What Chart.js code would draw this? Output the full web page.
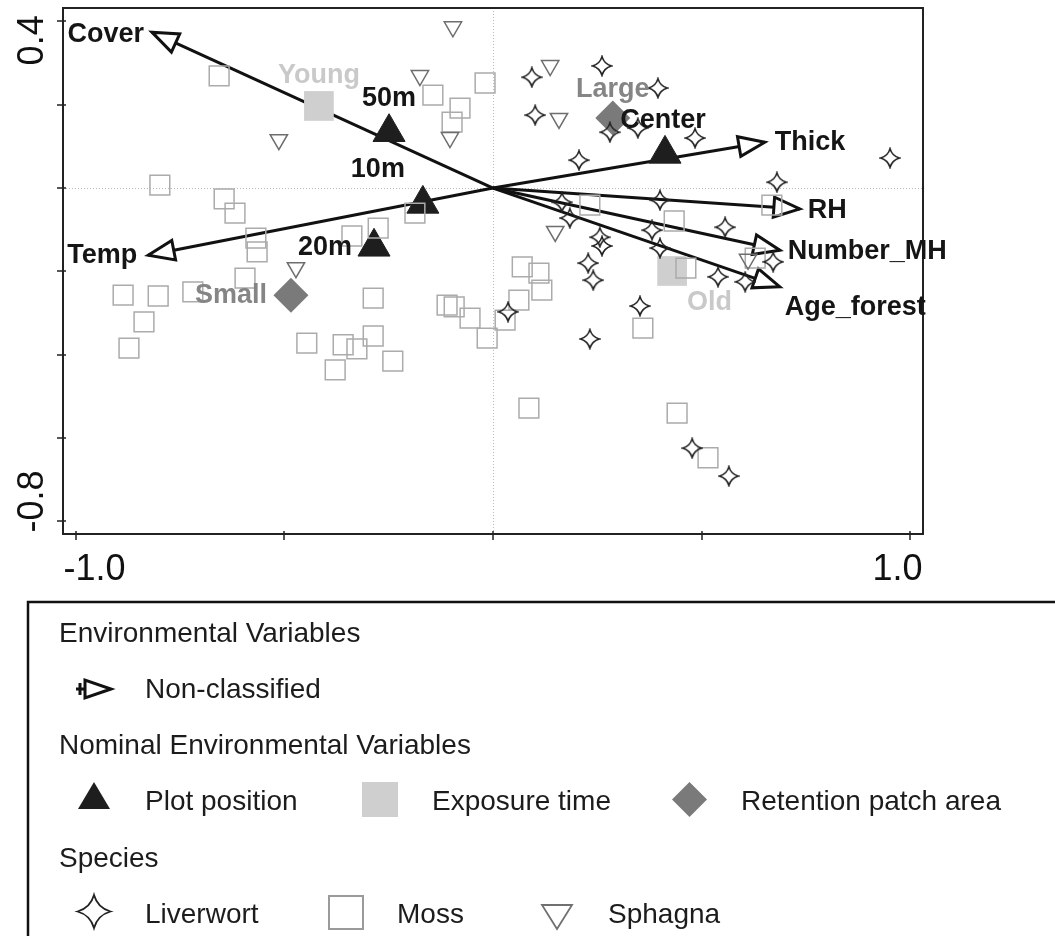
<!DOCTYPE html>
<html>
<head>
<meta charset="utf-8">
<script src="https://cdn.jsdelivr.net/npm/chart.js@4.4.1/dist/chart.umd.min.js"></script>
<style>
html, body { margin: 0; padding: 0; background: #fff; overflow: hidden; }
#wrap { width: 1055px; height: 936px; }
</style>
</head>
<body>
<div id="wrap"><canvas id="ordination" width="1055" height="936"></canvas></div>
<script>
// environmental variables (arrows)
const envNames = ['Cover', 'Temp', 'Thick', 'RH', 'Number_MH', 'Age_forest'];
const envX = [-0.817, -0.826, 0.651, 0.735, 0.687, 0.687];
const envY = [0.374, -0.161, 0.110, -0.050, -0.149, -0.237];

// nominal environmental variables
const plotPosNames = ['50m', '10m', '20m', 'Center'];
const plotPosX = [-0.249, -0.168, -0.285, 0.412];
const plotPosY = [0.134, -0.038, -0.141, 0.082];

const exposureNames = ['Young', 'Old'];
const exposureX = [-0.417, 0.429];
const exposureY = [0.197, -0.199];

const patchNames = ['Large', 'Small'];
const patchX = [0.287, -0.484];
const patchY = [0.168, -0.257];

// species scores
const liverwortX = [0.093, 0.261, 0.395, 0.101, 0.280, 0.347, 0.206, 0.165, 0.184, 0.400, 0.256, 0.261, 0.228, 0.240,
                    0.381, 0.400, 0.484, 0.951, 0.680, 0.556, 0.671, 0.539, 0.604, 0.352, 0.232, 0.036, 0.477, 0.565];
const liverwortY = [0.266, 0.293, 0.240, 0.175, 0.134, 0.144, 0.067, -0.034, -0.072, -0.029, -0.118, -0.139, -0.180, -0.221,
                    -0.101, -0.144, 0.120, 0.072, 0.014, -0.094, -0.177, -0.213, -0.225, -0.283, -0.362, -0.297, -0.624, -0.691];

const mossX = [-0.656, -0.798, -0.644, -0.618, -0.568, -0.565, -0.594, -0.886, -0.802, -0.719, -0.836, -0.872, -0.446, -0.359,
               -0.326, -0.378, -0.240, -0.287, -0.287, -0.338, -0.275, -0.187, -0.144, -0.079, -0.098, -0.019, -0.110, -0.093,
               -0.055, -0.014, 0.029, 0.062, 0.070, 0.110, 0.117, 0.232, 0.086, 0.359, 0.441, 0.515, 0.434, 0.462, 0.668, 0.628];
const mossY = [0.269, 0.007, -0.026, -0.060, -0.120, -0.153, -0.216, -0.257, -0.259, -0.249, -0.321, -0.384, -0.372, -0.376,
               -0.386, -0.436, -0.415, -0.264, -0.355, -0.115, -0.096, -0.060, 0.223, 0.192, 0.158, 0.252, -0.281, -0.285,
               -0.312, -0.360, -0.317, -0.269, -0.189, -0.204, -0.245, -0.041, -0.528, -0.336, -0.540, -0.647, -0.079, -0.192, -0.041, -0.168];

const sphagnaX = [-0.096, 0.137, -0.175, -0.103, 0.158, 0.149, -0.513, -0.472, 0.611];
const sphagnaY = [0.387, 0.294, 0.270, 0.121, 0.167, -0.104, 0.116, -0.191, -0.171];

// axes
const xTickValues = [-1.0, -0.5, 0, 0.5, 1.0];
const xTickLabels = ['-1.0', '', '', '', '1.0'];
const yTickValues = [0.4, 0.2, 0, -0.2, -0.4, -0.6, -0.8];
const yTickLabels = ['0.4', '', '', '', '', '', '-0.8'];

const FONT = '"Liberation Sans", Arial, sans-serif';

function toPoints(xs, ys) {
    return xs.map((x, i) => ({ x: x, y: ys[i] }));
}

// four pointed star used for liverworts
function traceStar(g, cx, cy, r) {
    const k = r * 0.22;
    g.beginPath();
    g.moveTo(cx, cy - r);
    g.quadraticCurveTo(cx + k, cy - k, cx + r, cy);
    g.quadraticCurveTo(cx + k, cy + k, cx, cy + r);
    g.quadraticCurveTo(cx - k, cy + k, cx - r, cy);
    g.quadraticCurveTo(cx - k, cy - k, cx, cy - r);
    g.closePath();
}

function makeStar(size, lw) {
    const c = document.createElement('canvas');
    c.width = size;
    c.height = size;
    const g = c.getContext('2d');
    traceStar(g, size / 2, size / 2, size / 2 - lw);
    g.lineWidth = lw;
    g.strokeStyle = '#222';
    g.lineJoin = 'miter';
    g.stroke();
    return c;
}

function drawHead(ctx, ox, oy, tx, ty, len, half) {
    const d = Math.hypot(tx - ox, ty - oy);
    const ux = (tx - ox) / d, uy = (ty - oy) / d;
    const bx = tx - ux * len, by = ty - uy * len;
    ctx.beginPath();
    ctx.moveTo(tx, ty);
    ctx.lineTo(bx - uy * half, by + ux * half);
    ctx.lineTo(bx + uy * half, by - ux * half);
    ctx.closePath();
    ctx.fillStyle = '#fff';
    ctx.fill();
    ctx.lineWidth = 3;
    ctx.strokeStyle = '#111';
    ctx.lineJoin = 'miter';
    ctx.stroke();
}

// where the text labels go relative to their marker (px)
const labelPlace = {
    'Cover': [-8, 10, 'right'], 'Temp': [-11, 8, 'right'], 'Thick': [10, 8, 'left'],
    'RH': [8, 9, 'left'], 'Number_MH': [8, 9, 'left'], 'Age_forest': [5, 28, 'left'],
    '50m': [0, -26, 'center'], '10m': [-45, -27, 'center'], '20m': [-22, 8, 'right'], 'Center': [-2, -26, 'center'],
    'Young': [0, -23, 'center'], 'Old': [15, 39, 'left'],
    'Large': [0, -21, 'center'], 'Small': [-24, 8, 'right']
};

const biplotDecor = {
    id: 'biplotDecor',
    beforeDatasetsDraw(chart) {
        const { ctx, chartArea: a, scales: { x, y } } = chart;
        const x0 = Math.round(x.getPixelForValue(0)) + 0.5;
        const y0 = Math.round(y.getPixelForValue(0)) + 0.5;
        ctx.save();
        ctx.strokeStyle = '#b8b8b8';
        ctx.lineWidth = 1;
        ctx.setLineDash([1, 2]);
        ctx.beginPath();
        ctx.moveTo(a.left, y0); ctx.lineTo(a.right, y0);
        ctx.moveTo(x0, a.top); ctx.lineTo(x0, a.bottom);
        ctx.stroke();
        ctx.restore();
    },
    afterDatasetDraw(chart, args) {
        const ds = chart.data.datasets[args.index];
        if (!ds.arrowHead) return;
        const pts = args.meta.data;
        const ctx = chart.ctx;
        ctx.save();
        drawHead(ctx, pts[0].x, pts[0].y, pts[1].x, pts[1].y, 26, 10);
        ctx.restore();
    },
    afterDatasetsDraw(chart) {
        const { ctx, chartArea: a, scales: { x, y } } = chart;
        ctx.save();

        // frame
        ctx.strokeStyle = '#222';
        ctx.lineWidth = 2;
        ctx.strokeRect(a.left, a.top, a.right - a.left, a.bottom - a.top);

        // ticks
        ctx.lineWidth = 1.5;
        ctx.beginPath();
        xTickValues.forEach(v => {
            const px = Math.round(x.getPixelForValue(v));
            ctx.moveTo(px, a.bottom - 3); ctx.lineTo(px, a.bottom + 6);
        });
        yTickValues.forEach(v => {
            const py = Math.round(y.getPixelForValue(v));
            ctx.moveTo(a.left - 6, py); ctx.lineTo(a.left + 3, py);
        });
        ctx.stroke();

        // tick labels
        ctx.fillStyle = '#111';
        ctx.font = '36px ' + FONT;
        ctx.textBaseline = 'alphabetic';
        xTickLabels.forEach((t, i) => {
            if (!t) return;
            const px = x.getPixelForValue(xTickValues[i]);
            const first = i === 0;
            ctx.textAlign = first ? 'left' : 'right';
            ctx.fillText(t, first ? px - 12 : px + 12, 580);
        });
        yTickLabels.forEach((t, i) => {
            if (!t) return;
            const py = y.getPixelForValue(yTickValues[i]);
            const first = i === 0;
            ctx.save();
            ctx.translate(43, first ? py - 6 : py + 11);
            ctx.rotate(-Math.PI / 2);
            ctx.textAlign = first ? 'right' : 'left';
            ctx.fillText(t, 0, 0);
            ctx.restore();
        });

        // labels of arrows and centroids
        ctx.font = 'bold 27px ' + FONT;
        const put = (names, xs, ys, color) => {
            names.forEach((n, i) => {
                const p = labelPlace[n];
                ctx.fillStyle = color;
                ctx.textAlign = p[2];
                ctx.fillText(n, x.getPixelForValue(xs[i]) + p[0], y.getPixelForValue(ys[i]) + p[1]);
            });
        };
        put(envNames, envX, envY, '#151515');
        put(plotPosNames, plotPosX, plotPosY, '#151515');
        put(exposureNames, exposureX, exposureY, '#c9c9c9');
        put(patchNames, patchX, patchY, '#858585');
        ctx.restore();
    },
    afterDraw(chart) {
        const ctx = chart.ctx;
        ctx.save();
        ctx.strokeStyle = '#111';
        ctx.lineWidth = 2.5;
        ctx.strokeRect(28, 602, 1100, 400);

        ctx.fillStyle = '#1c1c1c';
        ctx.font = '28px ' + FONT;
        ctx.textAlign = 'left';
        ctx.fillText('Environmental Variables', 59, 642);
        ctx.fillText('Non-classified', 145, 698);
        ctx.fillText('Nominal Environmental Variables', 59, 754);
        ctx.fillText('Plot position', 145, 810);
        ctx.fillText('Exposure time', 432, 810);
        ctx.fillText('Retention patch area', 741, 810);
        ctx.fillText('Species', 59, 867);
        ctx.fillText('Liverwort', 145, 923);
        ctx.fillText('Moss', 397, 923);
        ctx.fillText('Sphagna', 608, 923);

        // arrow key
        ctx.strokeStyle = '#111';
        ctx.lineWidth = 3;
        ctx.beginPath();
        ctx.moveTo(76, 689); ctx.lineTo(88, 689);
        ctx.moveTo(80, 683); ctx.lineTo(80, 695);
        ctx.stroke();
        drawHead(ctx, 76, 689, 111, 689, 26, 9);

        // plot position key
        ctx.fillStyle = '#1e1e1e';
        ctx.beginPath();
        ctx.moveTo(94, 782); ctx.lineTo(110, 809); ctx.lineTo(78, 809);
        ctx.closePath();
        ctx.fill();

        // exposure key
        ctx.fillStyle = '#cfcfcf';
        ctx.fillRect(362, 782, 36, 35);

        // patch key
        ctx.fillStyle = '#7a7a7a';
        ctx.beginPath();
        ctx.moveTo(689.5, 782); ctx.lineTo(707, 799.5); ctx.lineTo(689.5, 817); ctx.lineTo(672, 799.5);
        ctx.closePath();
        ctx.fill();

        // species keys
        ctx.lineWidth = 1.8;
        ctx.strokeStyle = '#222';
        traceStar(ctx, 94, 911.5, 16.5);
        ctx.stroke();
        ctx.strokeStyle = '#9a9a9a';
        ctx.lineWidth = 2;
        ctx.strokeRect(329, 896, 34, 33);
        ctx.strokeStyle = '#707070';
        ctx.lineWidth = 1.8;
        ctx.beginPath();
        ctx.moveTo(542, 905); ctx.lineTo(572, 905); ctx.lineTo(557, 929);
        ctx.closePath();
        ctx.stroke();
        ctx.restore();
    }
};

const arrowSets = envNames.map((name, i) => ({
    type: 'line',
    label: name,
    data: [{ x: 0, y: 0 }, { x: envX[i], y: envY[i] }],
    borderColor: '#111',
    borderWidth: 3,
    pointRadius: 0,
    fill: false,
    order: 6,
    arrowHead: true
}));

const starImg = makeStar(22, 1.6);

const chart = new Chart(document.getElementById('ordination'), {
    type: 'scatter',
    data: {
        datasets: [
            ...arrowSets,
            {
                label: 'Plot position',
                data: toPoints(plotPosX, plotPosY),
                pointStyle: 'triangle',
                pointRadius: 18.5,
                backgroundColor: '#1e1e1e',
                borderColor: '#1e1e1e',
                borderWidth: 1,
                order: 5
            },
            {
                label: 'Exposure time',
                data: toPoints(exposureX, exposureY),
                pointStyle: 'rect',
                pointRadius: 21,
                backgroundColor: '#cfcfcf',
                borderColor: '#cfcfcf',
                borderWidth: 0,
                order: 5
            },
            {
                label: 'Retention patch area',
                data: toPoints(patchX, patchY),
                pointStyle: 'rectRot',
                pointRadius: 17.5,
                backgroundColor: '#7a7a7a',
                borderColor: '#7a7a7a',
                borderWidth: 0,
                order: 5
            },
            {
                label: 'Moss',
                data: toPoints(mossX, mossY),
                pointStyle: 'rect',
                pointRadius: 14,
                backgroundColor: 'rgba(0,0,0,0)',
                borderColor: '#ababab',
                borderWidth: 1.5,
                order: 3
            },
            {
                label: 'Sphagna',
                data: toPoints(sphagnaX, sphagnaY),
                pointStyle: 'triangle',
                pointRotation: 180,
                pointRadius: 10,
                backgroundColor: 'rgba(0,0,0,0)',
                borderColor: '#6e6e6e',
                borderWidth: 1.5,
                order: 2
            },
            {
                label: 'Liverwort',
                data: toPoints(liverwortX, liverwortY),
                pointStyle: starImg,
                pointRadius: 11,
                order: 1
            }
        ]
    },
    options: {
        responsive: false,
        animation: false,
        devicePixelRatio: 1,
        events: [],
        layout: { autoPadding: false, padding: { left: 63, right: 132, top: 8, bottom: 402 } },
        scales: {
            x: { type: 'linear', min: -1.03, max: 1.03, display: false },
            y: { type: 'linear', min: -0.83, max: 0.432, display: false }
        },
        plugins: {
            legend: { display: false },
            tooltip: { enabled: false }
        }
    },
    plugins: [biplotDecor]
});
</script>
</body>
</html>
